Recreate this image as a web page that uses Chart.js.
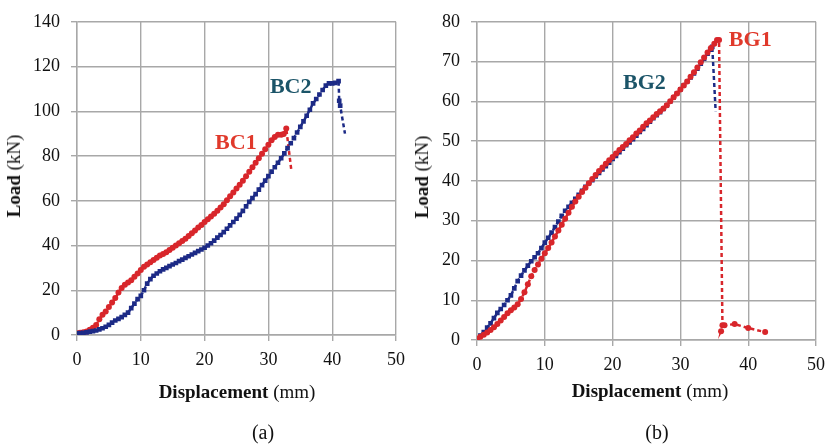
<!DOCTYPE html>
<html>
<head>
<meta charset="utf-8">
<script src="https://cdn.jsdelivr.net/npm/chart.js@4/dist/chart.umd.min.js"></script>
<style>
  body { margin: 0; background: #fff; width: 833px; height: 447px; position: relative; overflow: hidden; font-family: "Liberation Serif", "Times New Roman", serif; }
  canvas { position: absolute; top: 0; }
  .ttl { position: absolute; font-size: 19px; color: #111; white-space: nowrap; }
  .ttl b { font-weight: bold; }
  .ylab { transform: translate(-50%, -50%) rotate(-90deg); }
  .xlab { transform: translate(-50%, -50%); }
  .cap { position: absolute; font-size: 20px; color: #111; transform: translate(-50%, -50%); }
</style>
</head>
<body>
<canvas id="chartA" width="413" height="447" style="left:0;width:413px;height:447px"></canvas>
<canvas id="chartB" width="420" height="447" style="left:413px;width:420px;height:447px"></canvas>

<div class="ttl ylab" style="left:14px;top:176px"><b>Load</b> (kN)</div>
<div class="ttl xlab" style="left:237px;top:392px"><b>Displacement</b> (mm)</div>
<div class="cap" style="left:263px;top:432px">(a)</div>

<div class="ttl ylab" style="left:422px;top:177px"><b>Load</b> (kN)</div>
<div class="ttl xlab" style="left:650px;top:391px"><b>Displacement</b> (mm)</div>
<div class="cap" style="left:657px;top:432px">(b)</div>

<script>
// (a) BC specimens, displacement (mm) / load (kN)
const bc1X = [0, 0.5, 1, 1.5, 2, 2.5, 3, 3.5, 4, 4.5, 5, 5.5, 6, 6.5, 7, 7.5, 8, 8.5, 9, 9.5, 10, 10.5, 11, 11.5, 12, 12.5, 13, 13.5, 14, 14.5, 15, 15.5, 16, 16.5, 17, 17.5, 18, 18.5, 19, 19.5, 20, 20.5, 21, 21.5, 22, 22.5, 23, 23.5, 24, 24.5, 25, 25.5, 26, 26.5, 27, 27.5, 28, 28.5, 29, 29.5, 30, 30.5, 31, 31.5, 32, 32.4, 32.8, 33.6];
const bc1Y = [0.8, 1, 1.2, 1.6, 2.3, 3.2, 4.5, 7, 9, 10.5, 12.5, 14.5, 16.5, 19, 21, 22.5, 23.5, 24.5, 26, 27.5, 29, 30.5, 31.5, 32.5, 33.5, 34.5, 35.5, 36.2, 37, 38, 39, 40, 41, 42, 43, 44.2, 45.5, 46.7, 48, 49.2, 50.5, 51.7, 53, 54.2, 55.5, 57, 58.5, 60.2, 62, 63.7, 65.5, 67.2, 69, 71, 73, 75, 77, 79, 81, 83, 85, 87, 88.5, 89.5, 89.5, 89.8, 92.3, 73.5];

const bc2X = [0, 0.5, 1, 1.5, 2, 2.5, 3, 3.5, 4, 4.5, 5, 5.5, 6, 6.5, 7, 7.5, 8, 8.5, 9, 9.5, 10, 10.5, 11, 11.5, 12, 12.5, 13, 13.5, 14, 14.5, 15, 15.5, 16, 16.5, 17, 17.5, 18, 18.5, 19, 19.5, 20, 20.5, 21, 21.5, 22, 22.5, 23, 23.5, 24, 24.5, 25, 25.5, 26, 26.5, 27, 27.5, 28, 28.5, 29, 29.5, 30, 30.5, 31, 31.5, 32, 32.5, 33, 33.5, 34, 34.5, 35, 35.5, 36, 36.5, 37, 37.5, 38, 38.5, 39, 39.5, 40, 40.5, 41, 41.1, 41.25, 42];
const bc2Y = [0.8, 0.9, 1, 1.2, 1.5, 1.7, 2, 2.5, 3, 3.7, 4.5, 5.5, 6.5, 7.2, 8, 9, 10, 12, 14, 16, 17.5, 20, 23, 25, 26.5, 27.5, 28.5, 29.3, 30, 30.8, 31.5, 32.2, 33, 33.7, 34.5, 35.2, 36, 36.7, 37.5, 38.2, 39, 40, 41, 42.2, 43.5, 44.7, 46, 47.5, 49, 50.5, 52, 53.7, 55.5, 57.5, 59.5, 61.2, 63, 65, 67, 69, 71, 73, 75, 77, 79, 81.2, 83.5, 85.7, 88, 90.5, 93, 95.5, 98, 100.7, 103.5, 105.5, 107.5, 109.5, 111.5, 112.5, 112.5, 112.7, 113.5, 104.7, 102.5, 90];

// (b) BG specimens
const bg1X = [0, 0.5, 1, 1.5, 2, 2.5, 3, 3.5, 4, 4.5, 5, 5.5, 6, 6.5, 7, 7.5, 8, 8.5, 9, 9.5, 10, 10.5, 11, 11.5, 12, 12.5, 13, 13.5, 14, 14.5, 15, 15.5, 16, 16.5, 17, 17.5, 18, 18.5, 19, 19.5, 20, 20.5, 21, 21.5, 22, 22.5, 23, 23.5, 24, 24.5, 25, 25.5, 26, 26.5, 27, 27.5, 28, 28.5, 29, 29.5, 30, 30.5, 31, 31.5, 32, 32.5, 33, 33.5, 34, 34.5, 35, 35.4, 35.7, 36.2, 36.0, 36.5, 38, 40, 42.5];
const bg1Y = [0.3, 0.8, 1.3, 1.9, 2.5, 3.2, 4, 4.9, 5.8, 6.7, 7.5, 8.2, 9, 10.3, 12, 14, 16, 17.6, 19, 20.4, 21.8, 23.1, 24.5, 26, 27.5, 29, 30.5, 32, 33.5, 34.8, 36, 37.2, 38.3, 39.4, 40.5, 41.5, 42.5, 43.4, 44.3, 45.2, 46, 46.9, 47.8, 48.5, 49.3, 50.2, 51, 51.9, 52.7, 53.6, 54.5, 55.2, 56, 56.8, 57.5, 58.2, 59, 60, 61, 62, 63, 64, 65, 66.2, 67.3, 68.5, 69.8, 71, 72.3, 73.4, 74.5, 75.4, 75.4, 3.7, 2.2, 3.7, 4, 3, 2];

const bg2X = [0, 0.5, 1, 1.5, 2, 2.5, 3, 3.5, 4, 4.5, 5, 5.5, 6, 6.5, 7, 7.5, 8, 8.5, 9, 9.5, 10, 10.5, 11, 11.5, 12, 12.5, 13, 13.5, 14, 14.5, 15, 15.5, 16, 16.5, 17, 17.5, 18, 18.5, 19, 19.5, 20, 20.5, 21, 21.5, 22, 22.5, 23, 23.5, 24, 24.5, 25, 25.5, 26, 26.5, 27, 27.5, 28, 28.5, 29, 29.5, 30, 30.5, 31, 31.5, 32, 32.5, 33, 33.5, 34, 34.4, 34.7, 35.2];
const bg2Y = [0.3, 1.1, 2, 3.1, 4.2, 5.5, 6.8, 7.8, 8.8, 10, 11.2, 13, 14.8, 16.2, 17.5, 18.7, 19.8, 20.8, 21.8, 23.1, 24.5, 25.7, 27, 28.4, 29.8, 31.2, 32.5, 33.5, 34.5, 35.5, 36.5, 37.5, 38.5, 39.4, 40.2, 41.1, 42, 42.9, 43.7, 44.6, 45.5, 46.3, 47.2, 48.1, 49, 49.7, 50.5, 51.4, 52.3, 53.1, 54, 54.9, 55.8, 56.5, 57.3, 58.1, 59, 60, 61, 62, 63, 64, 65, 66, 67, 68.2, 69.5, 70.7, 72, 73, 73.7, 57.5];

const xTicks = [0, 10, 20, 30, 40, 50];
const yTicksA = [0, 20, 40, 60, 80, 100, 120, 140];
const yTicksB = [0, 10, 20, 30, 40, 50, 60, 70, 80];

// curve labels: [text, x, y, colour]
const labelsA = [["BC1", 24.9, 85.9, "#e0392b"], ["BC2", 33.5, 110.8, "#1b5468"]];
const labelsB = [["BG1", 40.3, 75.3, "#e0392b"], ["BG2", 24.7, 64.5, "#1b5468"]];

const RED = "#d8262b";
const BLUE = "#1c2a86";
const GRID = "#a8a8a8";
const FONT = "'Liberation Serif', 'Times New Roman', serif";

const toPts = (xs, ys) => xs.map((x, i) => ({ x: x, y: ys[i] }));

// draws the specimen names next to the curves
const curveLabels = {
  id: "curveLabels",
  afterDatasetsDraw(chart, args, opts) {
    const ctx = chart.ctx;
    ctx.save();
    ctx.font = "bold 22px " + FONT;
    ctx.textAlign = "center";
    ctx.textBaseline = "middle";
    opts.items.forEach((it) => {
      ctx.fillStyle = it[3];
      ctx.fillText(it[0], chart.scales.x.getPixelForValue(it[1]), chart.scales.y.getPixelForValue(it[2]));
    });
    ctx.restore();
  }
};

// the last point of a curve (after failure) is only reached by the dashed line
const series = (data, color, shape, lastOff) => {
  const r = shape === "rect" ? 3.3 : 3;
  return {
    data: data,
    showLine: true,
    borderColor: color,
    backgroundColor: color,
    borderWidth: 2.5,
    borderDash: [4, 3],
    pointStyle: shape,
    pointRadius: data.map((p, i) => (lastOff && i === data.length - 1 ? 0 : r)),
    pointBorderWidth: 0,
    tension: 0,
  };
};

const makeChart = (id, sets, yMax, yTicks, labels, yW, padR, xH, padTop) => {
  const ctx = document.getElementById(id).getContext("2d");
  return new Chart(ctx, {
    type: "scatter",
    data: { datasets: sets },
    plugins: [curveLabels],
    options: {
      responsive: false,
      animation: false,
      layout: { padding: { left: 0, right: padR, top: padTop, bottom: 0 } },
      plugins: {
        legend: { display: false },
        tooltip: { enabled: false },
        curveLabels: { items: labels },
      },
      scales: {
        x: {
          type: "linear",
          min: 0,
          max: 50,
          afterBuildTicks: (s) => { s.ticks = xTicks.map((v) => ({ value: v })); },
          afterFit: (s) => { s.height = xH; },
          grid: { color: GRID, lineWidth: 1.4, tickLength: 6, tickColor: GRID },
          border: { color: GRID, width: 1.4 },
          ticks: { color: "#111", padding: 8, font: { family: FONT, size: 18 }, maxRotation: 0 },
        },
        y: {
          type: "linear",
          min: 0,
          max: yMax,
          afterBuildTicks: (s) => { s.ticks = yTicks.map((v) => ({ value: v })); },
          afterFit: (s) => { s.width = yW; },
          grid: { color: GRID, lineWidth: 1.4, tickLength: 6, tickColor: GRID },
          border: { color: GRID, width: 1.4 },
          ticks: { color: "#111", padding: 11, font: { family: FONT, size: 18 } },
        },
      },
    },
  });
};

makeChart("chartA", [
  series(toPts(bc2X, bc2Y), BLUE, "rect", true),
  series(toPts(bc1X, bc1Y), RED, "circle", true),
], 140, yTicksA, labelsA, 77, 17, 112, 14);

makeChart("chartB", [
  series(toPts(bg1X, bg1Y), RED, "circle", false),
  series(toPts(bg2X, bg2Y), BLUE, "rect", true),
], 80, yTicksB, labelsB, 64, 12, 107, 14);
</script>
</body>
</html>
